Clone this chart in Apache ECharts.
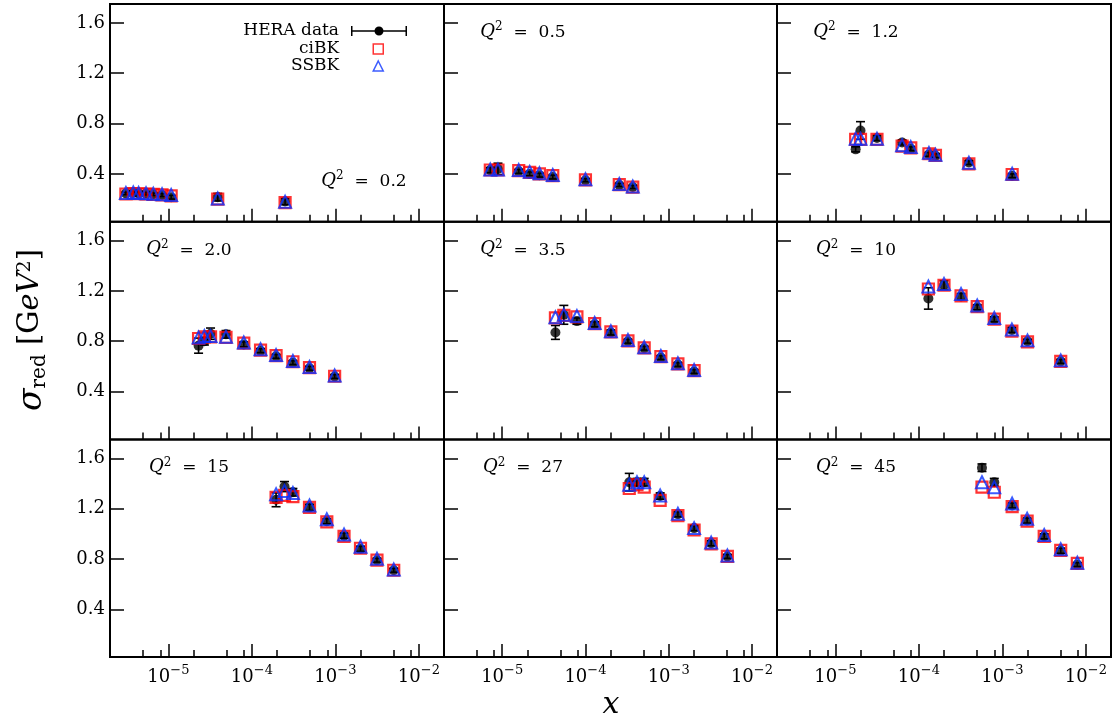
<!DOCTYPE html>
<html>
<head>
<meta charset="utf-8">
<script src="https://cdn.jsdelivr.net/npm/echarts@6.0.0/dist/echarts.min.js"></script>
<style>
  html, body { margin: 0; padding: 0; background: #fff; }
  #chart { width: 1117px; height: 722px; }
</style>
</head>
<body>
<div id="chart"></div>
<script>
// Q^2 of each panel, row by row
const q2Labels = ['0.2', '0.5', '1.2', '2.0', '3.5', '10', '15', '27', '45'];

// Bjorken x of the points in each panel
const xValues = [
  [3.1e-6, 3.8e-6, 4.4e-6, 5.4e-6, 6.6e-6, 8.4e-6, 1.08e-5, 3.9e-5, 2.5e-4],
  [7.2e-6, 8.9e-6, 1.58e-5, 2.14e-5, 2.8e-5, 4.05e-5, 1.0e-4, 2.55e-4, 3.7e-4],
  [1.75e-5, 2.0e-5, 3.15e-5, 6.3e-5, 8.0e-5, 1.32e-4, 1.58e-4, 3.97e-4, 1.31e-3],
  [2.3e-5, 2.7e-5, 3.2e-5, 4.9e-5, 8.0e-5, 1.27e-4, 1.95e-4, 3.1e-4, 4.9e-4, 9.8e-4],
  [4.36e-5, 5.5e-5, 7.9e-5, 1.29e-4, 2.02e-4, 3.24e-4, 5.08e-4, 8.05e-4, 1.29e-3, 2.02e-3],
  [1.3e-4, 2.0e-4, 3.2e-4, 5.0e-4, 8.0e-4, 1.3e-3, 2.0e-3, 5.0e-3],
  [1.95e-4, 2.46e-4, 3.1e-4, 4.9e-4, 7.9e-4, 1.27e-3, 2.0e-3, 3.15e-3, 5.0e-3],
  [3.36e-4, 4.16e-4, 5.08e-4, 7.9e-4, 1.29e-3, 2.02e-3, 3.24e-3, 5.07e-3],
  [5.7e-4, 8.0e-4, 1.31e-3, 1.98e-3, 3.17e-3, 5.0e-3, 7.9e-3]
];

// HERA reduced cross section and its error
const heraValues = [
  [0.245, 0.25, 0.245, 0.243, 0.238, 0.232, 0.215, 0.215, 0.18],
  [0.43, 0.44, 0.42, 0.40, 0.39, 0.375, 0.35, 0.312, 0.296],
  [0.595, 0.745, 0.685, 0.65, 0.60, 0.555, 0.545, 0.49, 0.385],
  [0.765, 0.80, 0.86, 0.855, 0.775, 0.725, 0.68, 0.63, 0.585, 0.52],
  [0.87, 1.01, 0.96, 0.935, 0.87, 0.80, 0.745, 0.67, 0.615, 0.56],
  [1.14, 1.245, 1.155, 1.07, 0.975, 0.89, 0.80, 0.64],
  [1.27, 1.375, 1.33, 1.21, 1.10, 0.985, 0.88, 0.79, 0.71],
  [1.41, 1.41, 1.41, 1.30, 1.155, 1.045, 0.925, 0.82],
  [1.525, 1.41, 1.225, 1.105, 0.98, 0.865, 0.755]
];
const heraErrors = [
  [0.01, 0.01, 0.01, 0.01, 0.01, 0.012, 0.015, 0.03, 0.025],
  [0.02, 0.045, 0.015, 0.015, 0.015, 0.015, 0.012, 0.012, 0.012],
  [0.02, 0.07, 0.02, 0.02, 0.015, 0.015, 0.015, 0.015, 0.015],
  [0.06, 0.03, 0.045, 0.03, 0.02, 0.015, 0.015, 0.015, 0.015, 0.015],
  [0.055, 0.075, 0.025, 0.02, 0.02, 0.015, 0.015, 0.015, 0.015, 0.015],
  [0.085, 0.035, 0.025, 0.02, 0.02, 0.02, 0.015, 0.015],
  [0.055, 0.04, 0.03, 0.025, 0.02, 0.02, 0.02, 0.015, 0.015],
  [0.07, 0.03, 0.03, 0.025, 0.02, 0.02, 0.02, 0.015],
  [0.03, 0.03, 0.02, 0.02, 0.02, 0.02, 0.015]
];

// model curves
const cibkValues = [
  [0.24, 0.244, 0.242, 0.24, 0.237, 0.233, 0.226, 0.2, 0.172],
  [0.431, 0.431, 0.426, 0.412, 0.40, 0.386, 0.352, 0.315, 0.294],
  [0.675, 0.675, 0.675, 0.62, 0.607, 0.56, 0.547, 0.48, 0.395],
  [0.822, 0.835, 0.835, 0.83, 0.785, 0.73, 0.685, 0.637, 0.59, 0.522],
  [0.985, 1.005, 0.993, 0.94, 0.875, 0.803, 0.748, 0.677, 0.62, 0.566],
  [1.215, 1.245, 1.16, 1.075, 0.975, 0.88, 0.795, 0.64],
  [1.29, 1.305, 1.295, 1.21, 1.095, 0.98, 0.885, 0.79, 0.71],
  [1.36, 1.39, 1.37, 1.265, 1.145, 1.03, 0.92, 0.82],
  [1.37, 1.33, 1.215, 1.10, 0.98, 0.868, 0.765]
];
const ssbkValues = [
  [0.248, 0.252, 0.248, 0.246, 0.243, 0.238, 0.232, 0.205, 0.178],
  [0.434, 0.434, 0.43, 0.416, 0.405, 0.392, 0.357, 0.32, 0.30],
  [0.68, 0.68, 0.68, 0.628, 0.613, 0.567, 0.553, 0.488, 0.402],
  [0.83, 0.842, 0.842, 0.835, 0.79, 0.737, 0.69, 0.643, 0.595, 0.528],
  [0.99, 1.01, 1.0, 0.945, 0.88, 0.81, 0.752, 0.683, 0.625, 0.572],
  [1.235, 1.255, 1.175, 1.085, 0.985, 0.893, 0.807, 0.648],
  [1.315, 1.34, 1.325, 1.225, 1.115, 0.995, 0.897, 0.802, 0.717],
  [1.39, 1.41, 1.41, 1.305, 1.16, 1.045, 0.93, 0.828],
  [1.41, 1.37, 1.24, 1.12, 0.99, 0.878, 0.77]
];

// axes
const xMajorTicks = [1e-5, 1e-4, 1e-3, 1e-2];
const xMinorTicks = [5e-6, 8e-6, 2e-5, 5e-5, 8e-5, 2e-4, 5e-4, 8e-4, 2e-3, 5e-3, 8e-3];
const yTicks = [0.4, 0.8, 1.2, 1.6];
const X_MIN = 2e-6, X_MAX = 2e-2;
const Y_MIN = 0.02, Y_MAX = 1.75;

const FONT = 'DejaVu Serif';
const RED = '#ff0000';
const BLUE = '#0a32ff';
const colLeft = [110, 444, 777];
const colWidth = [334, 333, 334];
const rowTop = [4, 221.7, 439.4];
const rowHeight = 217.7;

function renderErrorBar(params, api) {
  const x = api.value(0);
  const lo = api.coord([x, api.value(1)]);
  const hi = api.coord([x, api.value(2)]);
  const half = 4.5;
  const style = { stroke: '#000', lineWidth: 1.6 };
  return {
    type: 'group',
    children: [
      { type: 'line', shape: { x1: lo[0], y1: lo[1], x2: hi[0], y2: hi[1] }, style: style },
      { type: 'line', shape: { x1: hi[0] - half, y1: hi[1], x2: hi[0] + half, y2: hi[1] }, style: style },
      { type: 'line', shape: { x1: lo[0] - half, y1: lo[1], x2: lo[0] + half, y2: lo[1] }, style: style }
    ]
  };
}

const supRich = {
  b: { fontFamily: FONT, fontSize: 18, color: '#000', lineHeight: 22, verticalAlign: 'bottom' },
  s: { fontFamily: FONT, fontSize: 13, color: '#000', lineHeight: 13, verticalAlign: 'top' }
};

const qRich = {
  q: { fontFamily: FONT, fontStyle: 'italic', fontSize: 18, color: '#000', lineHeight: 20, verticalAlign: 'bottom' },
  s: { fontFamily: FONT, fontSize: 12, color: '#000', lineHeight: 12, verticalAlign: 'top' },
  n: { fontFamily: FONT, fontSize: 17, color: '#000', lineHeight: 20, verticalAlign: 'bottom' }
};

const grids = [], xAxes = [], yAxes = [], series = [], graphics = [];

q2Labels.forEach(function (q2, i) {
  const row = Math.floor(i / 3), col = i % 3;
  grids.push({
    left: colLeft[col], top: rowTop[row], width: colWidth[col], height: rowHeight,
    show: true, borderColor: '#000', borderWidth: 2, backgroundColor: 'transparent'
  });
  xAxes.push({
    gridIndex: i, type: 'log', logBase: 10, min: X_MIN, max: X_MAX, position: 'bottom',
    axisLine: { show: false }, splitLine: { show: false },
    axisTick: { inside: true, length: 13, lineStyle: { color: '#000', width: 1.5 }, customValues: xMajorTicks },
    axisLabel: {
      show: row === 2, customValues: xMajorTicks, margin: 7,
      formatter: function (v) {
        const e = Math.round(Math.log10(v));
        return '{b|10}{s|' + (e < 0 ? '\u2212' : '') + Math.abs(e) + '}';
      },
      rich: supRich
    }
  });
  xAxes.push({
    gridIndex: i, type: 'log', logBase: 10, min: X_MIN, max: X_MAX, position: 'bottom',
    axisLine: { show: false }, splitLine: { show: false }, axisLabel: { show: false },
    axisTick: { inside: true, length: 7, lineStyle: { color: '#000', width: 1.5 }, customValues: xMinorTicks }
  });
  yAxes.push({
    gridIndex: i, type: 'value', min: Y_MIN, max: Y_MAX, position: 'left',
    axisLine: { show: false }, splitLine: { show: false },
    axisTick: { inside: true, length: 14, lineStyle: { color: '#000', width: 1.5 }, customValues: yTicks },
    axisLabel: {
      show: col === 0, customValues: yTicks, margin: 5,
      fontFamily: FONT, fontSize: 18, color: '#000',
      formatter: function (v) { return v.toFixed(1); }
    }
  });

  const xs = xValues[i];
  series.push({
    name: 'HERA data', type: 'custom', xAxisIndex: 2 * i, yAxisIndex: i, z: 2,
    renderItem: renderErrorBar,
    encode: { x: 0, y: [1, 2] },
    data: xs.map(function (x, j) { return [x, heraValues[i][j] - heraErrors[i][j], heraValues[i][j] + heraErrors[i][j]]; })
  });
  series.push({
    name: 'HERA data', type: 'scatter', xAxisIndex: 2 * i, yAxisIndex: i, z: 2,
    symbol: 'circle', symbolSize: 10, itemStyle: { color: '#000' },
    data: xs.map(function (x, j) { return [x, heraValues[i][j]]; })
  });
  series.push({
    name: 'ciBK', type: 'scatter', xAxisIndex: 2 * i, yAxisIndex: i, z: 3,
    symbol: 'rect', symbolSize: 11,
    itemStyle: { color: 'transparent', borderColor: RED, borderWidth: 2.2 },
    data: xs.map(function (x, j) { return [x, cibkValues[i][j]]; })
  });
  series.push({
    name: 'SSBK', type: 'scatter', xAxisIndex: 2 * i, yAxisIndex: i, z: 4,
    symbol: 'triangle', symbolSize: 12,
    itemStyle: { color: 'transparent', borderColor: BLUE, borderWidth: 2 },
    data: xs.map(function (x, j) { return [x, ssbkValues[i][j]]; })
  });

  // Q^2 label of the panel
  const cx = i === 0 ? 364 : colLeft[col] + 79;
  const cy = i === 0 ? 180 : rowTop[row] + 27;
  graphics.push({
    type: 'text', x: cx, y: cy, z: 10,
    style: {
      text: '{q|Q}{s|2}{n|  =  ' + q2 + '}',
      rich: qRich, align: 'center', verticalAlign: 'middle'
    }
  });
});

// axis titles
graphics.push({
  type: 'text', x: 33, y: 330, rotation: Math.PI / 2,
  style: {
    text: '{g|\u03c3}{sub|red}{r| [G}{i|eV}{sup|2}{r|]}',
    align: 'center', verticalAlign: 'middle',
    rich: {
      g: { fontFamily: FONT, fontStyle: 'italic', fontSize: 33, color: '#000', lineHeight: 34, verticalAlign: 'top' },
      sub: { fontFamily: FONT, fontSize: 20, color: '#000', lineHeight: 18, verticalAlign: 'bottom' },
      r: { fontFamily: FONT, fontSize: 29, color: '#000', lineHeight: 34, verticalAlign: 'top' },
      i: { fontFamily: FONT, fontStyle: 'italic', fontSize: 29, color: '#000', lineHeight: 34, verticalAlign: 'top' },
      sup: { fontFamily: FONT, fontSize: 19, color: '#000', lineHeight: 18, verticalAlign: 'top' }
    }
  }
});
graphics.push({
  type: 'text', x: 611, y: 705,
  style: { text: 'x', fontFamily: FONT, fontStyle: 'italic', fontSize: 30, fill: '#000', align: 'center', verticalAlign: 'middle' }
});

const legendText = { fontFamily: FONT, fontSize: 17, color: '#000', lineHeight: 18 };
const errorBarIcon = 'path://M0,4.25 H56 V5.75 H0 Z M0,0 H1.5 V10 H0 Z M54.5,0 H56 V10 H54.5 Z ' +
  'M32.5,5 A4.5,4.5 0 1 1 23.5,5 A4.5,4.5 0 1 1 32.5,5 Z';

const option = {
  backgroundColor: '#fff',
  animation: false,
  textStyle: { fontFamily: FONT },
  grid: grids,
  xAxis: xAxes,
  yAxis: yAxes,
  legend: [
    {
      data: [{ name: 'HERA data', icon: errorBarIcon, itemStyle: { color: '#000' } }],
      right: 710, top: 22, padding: 0, align: 'right', orient: 'vertical',
      itemWidth: 56, itemHeight: 10,
      textStyle: Object.assign({ padding: [0, 7, 0, 0] }, legendText)
    },
    {
      data: [{ name: 'ciBK', icon: 'rect', itemStyle: { color: 'transparent', borderColor: RED, borderWidth: 1.5 } }],
      right: 733, top: 40, padding: 0, align: 'right', orient: 'vertical',
      itemWidth: 10, itemHeight: 10,
      textStyle: Object.assign({ padding: [0, 29, 0, 0] }, legendText)
    },
    {
      data: [{ name: 'SSBK', icon: 'triangle', itemStyle: { color: 'transparent', borderColor: BLUE, borderWidth: 1.5 } }],
      right: 733, top: 57, padding: 0, align: 'right', orient: 'vertical',
      itemWidth: 10, itemHeight: 10,
      textStyle: Object.assign({ padding: [0, 29, 0, 0] }, legendText)
    }
  ],
  graphic: graphics,
  series: series
};

const chart = echarts.init(document.getElementById('chart'), null, { renderer: 'canvas' });
chart.setOption(option);
window.addEventListener('resize', chart.resize);
</script>
</body>
</html>
